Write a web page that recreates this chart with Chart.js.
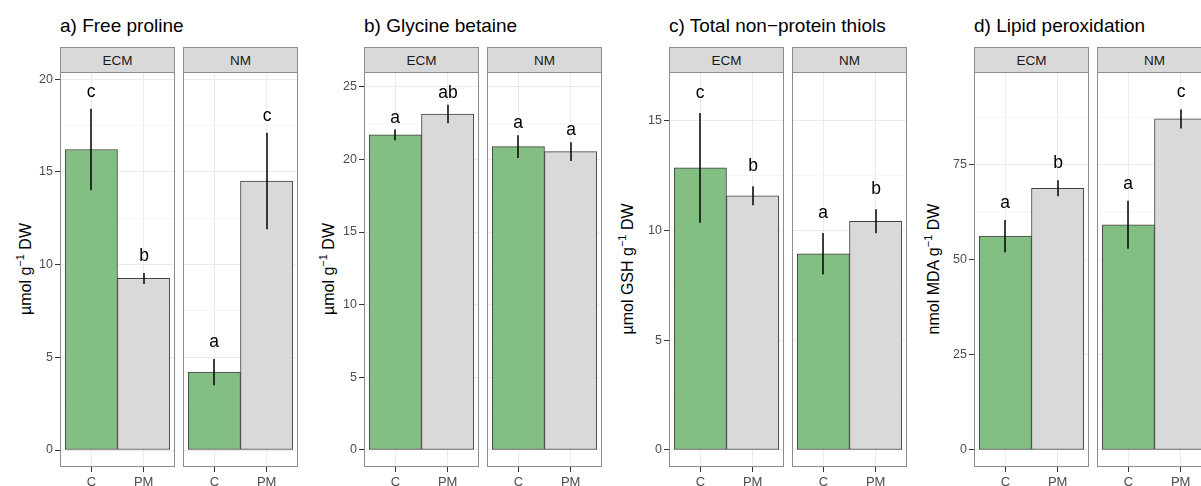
<!DOCTYPE html>
<html><head><meta charset="utf-8">
<script src="https://cdn.jsdelivr.net/npm/chart.js@4.4.1/dist/chart.umd.min.js"></script>
<style>
html,body{margin:0;padding:0;background:#fff;overflow:hidden;width:1201px;height:486px;}
#wrap{position:relative;width:1201px;height:486px;overflow:hidden;font-family:"Liberation Sans",Arial,sans-serif;}
canvas{position:absolute;}
.title{position:absolute;top:16px;font-size:19px;line-height:19px;color:#000;white-space:nowrap;}
.strip{position:absolute;top:47px;height:26px;box-sizing:border-box;background:#d9d9d9;border:1px solid #8c8c8c;font-size:13.5px;color:#1a1a1a;display:flex;align-items:center;justify-content:center;}
.ytitle{position:absolute;top:269px;font-size:16px;line-height:16px;white-space:nowrap;transform:translate(-50%,-50%) rotate(-90deg);color:#000;}
.ytitle sup{font-size:11px;line-height:0;vertical-align:0;position:relative;top:-0.6em;}
</style></head>
<body><div id="wrap"></div>
<script>
// ---- data ----
const categories = ["C", "PM"];
const facets = ["ECM", "NM"];
const panelTitles = ["a) Free proline", "b) Glycine betaine", "c) Total non\u2212protein thiols", "d) Lipid peroxidation"];
const yTitles = ["\u00b5mol g<sup>\u22121</sup> DW", "\u00b5mol g<sup>\u22121</sup> DW", "\u00b5mol GSH g<sup>\u22121</sup> DW", "nmol MDA g<sup>\u22121</sup> DW"];

const prolineECM = [16.2, 9.25],  prolineECMse = [2.2, 0.3],  prolineECMlet = ["c", "b"];
const prolineNM  = [4.2, 14.5],   prolineNMse  = [0.71, 2.6], prolineNMlet  = ["a", "c"];
const betaineECM = [21.68, 23.12], betaineECMse = [0.37, 0.63], betaineECMlet = ["a", "ab"];
const betaineNM  = [20.87, 20.53], betaineNMse  = [0.78, 0.65], betaineNMlet  = ["a", "a"];
const thiolECM = [12.85, 11.58], thiolECMse = [2.5, 0.43], thiolECMlet = ["c", "b"];
const thiolNM  = [8.94, 10.42],  thiolNMse  = [0.94, 0.55], thiolNMlet  = ["a", "b"];
const mdaECM = [56.2, 68.8], mdaECMse = [4.25, 2.1], mdaECMlet = ["a", "b"];
const mdaNM  = [59.2, 87.0], mdaNMse  = [6.3, 2.5], mdaNMlet  = ["a", "c"];

const prolineTicks = [0, 5, 10, 15, 20];
const betaineTicks = [0, 5, 10, 15, 20, 25];
const thiolTicks = [0, 5, 10, 15];
const mdaTicks = [0, 25, 50, 75];

// ---- layout / style ----
const FONT = '"Liberation Sans", Arial, sans-serif';
const panelLeft = [60, 364, 669, 974];
const panelW = 115, facetGap = 123, yAxisW = 45;
const yTitleX = [25.5, 329, 628, 934];
const yLimits = [[-0.916, 20.38], [-1.17, 26.01], [-0.775, 17.22], [-4.468, 99.34]];
const letterGap = [12, 7, 15, 12];
const barColors = ["#83be83", "#d9d9d9"];

const panels = [
  {ticks: prolineTicks, f: [[prolineECM, prolineECMse, prolineECMlet], [prolineNM, prolineNMse, prolineNMlet]]},
  {ticks: betaineTicks, f: [[betaineECM, betaineECMse, betaineECMlet], [betaineNM, betaineNMse, betaineNMlet]]},
  {ticks: thiolTicks, f: [[thiolECM, thiolECMse, thiolECMlet], [thiolNM, thiolNMse, thiolNMlet]]},
  {ticks: mdaTicks, f: [[mdaECM, mdaECMse, mdaECMlet], [mdaNM, mdaNMse, mdaNMlet]]}
];

const wrap = document.getElementById('wrap');

function addDiv(cls, html, style) {
  const d = document.createElement('div');
  d.className = cls; d.innerHTML = html;
  Object.assign(d.style, style);
  wrap.appendChild(d);
  return d;
}

function zeroPad(s) { s.paddingTop = 0; s.paddingBottom = 0; s.paddingLeft = 0; s.paddingRight = 0; }

function makeFacet(pi, fi) {
  const P = panels[pi];
  const [means, se, letters] = P.f[fi];
  const showY = fi === 0;
  const [ymin, ymax] = yLimits[pi];
  const majors = P.ticks;
  const step = majors[1] - majors[0];
  const minors = [];
  for (let i = 0; i < majors.length; i++) {
    const m = majors[i] + step / 2;
    if (m <= ymax) minors.push(m);
  }
  const allTicks = majors.concat(minors).sort((a, b) => a - b);
  const isMajor = v => majors.indexOf(v) >= 0;

  const left = panelLeft[pi] + fi * facetGap - (showY ? yAxisW : 0);
  const cw = panelW + (showY ? yAxisW : 0);
  const cv = document.createElement('canvas');
  cv.width = cw; cv.height = 414;
  cv.style.left = left + 'px'; cv.style.top = '72px';
  cv.style.width = cw + 'px'; cv.style.height = '414px';
  wrap.appendChild(cv);

  const overlay = {
    id: 'overlay' + pi + fi,
    afterDatasetsDraw(chart) {
      const ctx = chart.ctx, xs = chart.scales.x, ys = chart.scales.y;
      ctx.save();
      ctx.strokeStyle = '#000'; ctx.lineWidth = 1.5;
      ctx.fillStyle = '#000';
      ctx.font = '17.5px ' + FONT;
      ctx.textAlign = 'center'; ctx.textBaseline = 'alphabetic';
      means.forEach((m, i) => {
        const x = Math.round(xs.getPixelForValue(i + 1));
        const y1 = ys.getPixelForValue(m + se[i]);
        const y2 = ys.getPixelForValue(m - se[i]);
        ctx.beginPath(); ctx.moveTo(x, y1); ctx.lineTo(x, y2); ctx.stroke();
        ctx.fillText(letters[i], x, y1 - letterGap[pi]);
      });
      const a = chart.chartArea;
      ctx.strokeStyle = '#8c8c8c'; ctx.lineWidth = 1;
      ctx.strokeRect(a.left + 0.5, a.top + 0.5, a.right - a.left - 1, a.bottom - a.top - 1);
      ctx.restore();
    }
  };

  new Chart(cv, {
    type: 'bar',
    data: {
      datasets: [{
        data: means.map((v, i) => ({x: i + 1, y: v})),
        backgroundColor: barColors,
        borderColor: '#404040',
        borderWidth: 1,
        borderSkipped: false,
        barPercentage: 1,
        categoryPercentage: 1
      }]
    },
    options: {
      responsive: false, animation: false, devicePixelRatio: 1,
      layout: {padding: 0, autoPadding: false},
      plugins: {legend: {display: false}, tooltip: {enabled: false}},
      events: [],
      scales: {
        x: {
          type: 'linear', min: 0.4, max: 2.6, offset: false,
          afterBuildTicks: s => { s.ticks = categories.map((c, i) => ({value: i + 1})); },
          ticks: {callback: (v, i) => categories[i], color: '#4d4d4d', font: {size: 13, family: FONT}, padding: 3, maxRotation: 0, autoSkip: false},
          grid: {color: '#ebebeb', lineWidth: 1, tickLength: 5, tickColor: '#333', offset: false},
          border: {display: false},
          afterFit: s => { s.height = 19; zeroPad(s); }
        },
        y: {
          type: 'linear', min: ymin, max: ymax,
          afterBuildTicks: s => { s.ticks = allTicks.map(v => ({value: v})); },
          ticks: {display: showY, callback: v => isMajor(v) ? String(v) : '', color: '#4d4d4d', font: {size: 12.5, family: FONT}, padding: 2},
          grid: {
            color: c => (c.tick && isMajor(c.tick.value)) ? '#ebebeb' : '#f5f5f5',
            tickColor: c => (showY && c.tick && isMajor(c.tick.value)) ? '#333' : 'rgba(0,0,0,0)',
            tickLength: 5, lineWidth: 1
          },
          border: {display: false},
          afterFit: s => { s.width = showY ? yAxisW : 0; zeroPad(s); }
        }
      }
    },
    plugins: [overlay]
  });

  addDiv('strip', facets[fi], {left: (panelLeft[pi] + fi * facetGap) + 'px', width: panelW + 'px'});
}

for (let pi = 0; pi < panels.length; pi++) {
  addDiv('title', panelTitles[pi], {left: panelLeft[pi] + 'px'});
  addDiv('ytitle', yTitles[pi], {left: yTitleX[pi] + 'px'});
  makeFacet(pi, 0);
  makeFacet(pi, 1);
}
</script>
</body></html>
